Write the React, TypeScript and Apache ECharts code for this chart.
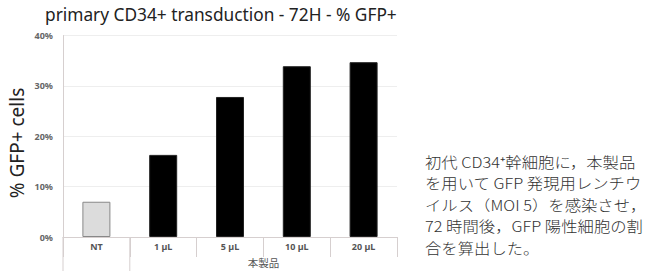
import React, { useEffect, useRef } from "react";
import * as echarts from "echarts";

const categories = ["NT", "1 µL", "5 µL", "10 µL", "20 µL"];
const values = [7, 16.3, 27.8, 33.9, 34.7];
const yTicks = [0, 10, 20, 30, 40];
const groupLabel = "本製品";
const title = "primary CD34+ transduction - 72H - % GFP+";
const yName = "% GFP+ cells";
const noteLines = [
  "初代 CD34⁺幹細胞に，本製品",
  "を用いて GFP 発現用レンチウ",
  "イルス（MOI 5）を感染させ，",
  "72 時間後，GFP 陽性細胞の割",
  "合を算出した。",
];

export default function App() {
  const ref = useRef<HTMLDivElement>(null);
  useEffect(() => {
    document.body.style.margin = "0";
    const chart = echarts.init(ref.current!, null, { renderer: "svg" });
    const axisColor = "#d6cfcf";
    chart.setOption({
      animation: false,
      backgroundColor: "#ffffff",
      title: {
        text: title,
        left: 40,
        top: 1,
        textStyle: { fontFamily: "Noto Sans", fontSize: 17.3, fontWeight: "normal", color: "#222" },
      },
      grid: { left: 63, right: 252, top: 35.5, bottom: 34 },
      xAxis: {
        type: "category",
        data: categories,
        axisLine: { lineStyle: { color: axisColor, width: 1 } },
        axisTick: { show: true, length: 20, lineStyle: { color: axisColor } },
        axisLabel: { fontFamily: "Noto Sans", fontSize: 9, fontWeight: "bold", color: "#555", margin: 5 },
      },
      yAxis: {
        type: "value",
        min: yTicks[0],
        max: yTicks[yTicks.length - 1],
        interval: 10,
        axisLine: { show: true, lineStyle: { color: axisColor } },
        axisTick: { show: false },
        axisLabel: { formatter: "{value}%", fontFamily: "Noto Sans", fontSize: 9, fontWeight: "bold", color: "#666", margin: 10 },
        splitLine: { lineStyle: { color: "#eeeeee" } },
      },
      series: [
        {
          type: "bar",
          barWidth: 28,
          data: values.map((v, i) => ({
            value: v,
            itemStyle:
              i === 0
                ? { color: "#dcdcdc", borderColor: "#888", borderWidth: 1 }
                : { color: "#000", borderColor: "#222", borderWidth: 1 },
          })),
        },
      ],
    });
    const [x0, y0] = chart.convertToPixel({ gridIndex: 0 }, [0, 0]) as number[];
    const catW = (chart.convertToPixel({ xAxisIndex: 0 }, 1) as number) - (chart.convertToPixel({ xAxisIndex: 0 }, 0) as number);
    const left = x0 - catW / 2;
    const sep = left + catW;
    const right = left + catW * categories.length;
    chart.setOption({
      graphic: [
        { type: "line", shape: { x1: left, y1: y0, x2: left, y2: 271 }, style: { stroke: axisColor, lineWidth: 1 } },
        { type: "line", shape: { x1: sep, y1: y0, x2: sep, y2: 271 }, style: { stroke: axisColor, lineWidth: 1 } },
        {
          type: "text",
          x: 17,
          y: 143,
          rotation: Math.PI / 2,
          style: { text: yName, fontFamily: "Noto Sans", fontSize: 19, fill: "#222", align: "center", verticalAlign: "middle" },
        },
        {
          type: "text",
          x: (sep + right) / 2,
          y: 262,
          style: { text: groupLabel, fontFamily: "Noto Sans CJK JP", fontSize: 10.5, fill: "#555", align: "center", verticalAlign: "middle" },
        },
        ...noteLines.map((line, i) => ({
          type: "text",
          x: 425,
          y: 161 + i * 21.5,
          scaleX: 1.12,
          style: {
            text: line,
            fontFamily: "Noto Sans CJK JP",
            fontSize: 14.6,
            fontWeight: 300,
            fill: "#333",
            align: "left",
            verticalAlign: "middle",
          },
        })),
      ],
    });
    return () => chart.dispose();
  }, []);
  return <div ref={ref} style={{ width: 649, height: 271 }} />;
}
